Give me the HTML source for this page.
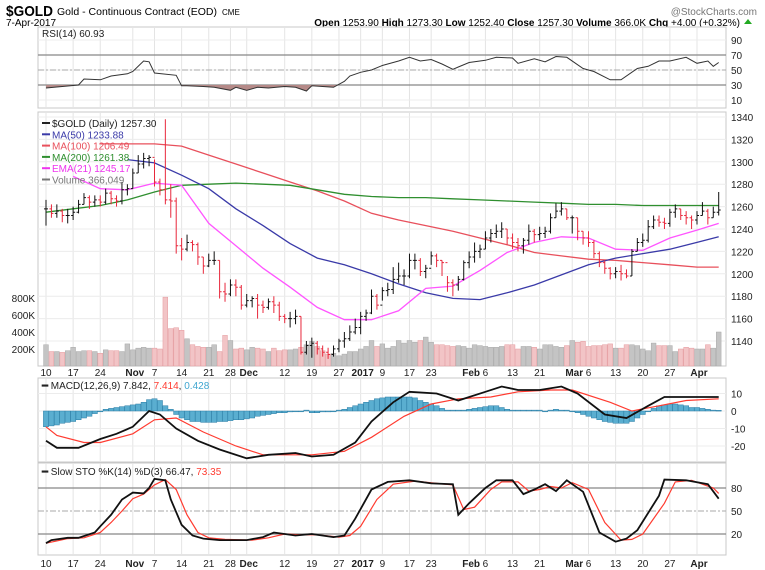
<!DOCTYPE html>
<html><head><meta charset="utf-8">
<style>
html,body{margin:0;padding:0;background:#fff;}
svg{display:block;font-family:"Liberation Sans",sans-serif;}
</style></head>
<body>
<svg id="chart" width="765" height="570" viewBox="0 0 765 570" xmlns="http://www.w3.org/2000/svg">
<text x="6" y="16" font-size="15" font-weight="bold" textLength="47" lengthAdjust="spacingAndGlyphs">$GOLD</text>
<text x="57" y="15" font-size="10" textLength="160" lengthAdjust="spacingAndGlyphs">Gold - Continuous Contract (EOD)</text>
<text x="222" y="15" font-size="8">CME</text>
<text x="6" y="26" font-size="10">7-Apr-2017</text>
<text x="740" y="26" font-size="10" text-anchor="end"><tspan font-weight="bold">Open</tspan> 1253.90 <tspan font-weight="bold">High</tspan> 1273.30 <tspan font-weight="bold">Low</tspan> 1252.40 <tspan font-weight="bold">Close</tspan> 1257.30 <tspan font-weight="bold">Volume</tspan> 366.0K <tspan font-weight="bold">Chg</tspan> +4.00 (+0.32%)</text>
<polygon points="744,24 752,24 748,19" fill="#22aa22"/>
<text x="757" y="15" font-size="10" fill="#777" text-anchor="end">@StockCharts.com</text>
<g id="g"></g>
</svg>
<script>
// ---- data ----
const weekLabels = ["10","17","24","Nov","7","14","21","28","Dec","12","19","27","2017","9","17","23","Feb","6","13","21","Mar","6","13","20","27","Apr"];
const weekLabelDay = [0,5,10,16,20,25,30,34,37,44,49,54,58,62,67,71,78,81,86,91,97,100,105,110,115,120];
const close = [1258,1254,1256,1252,1252, 1255,1262,1268,1264,1266, 1264,1272,1267,1265,1275, 1276,1290,1298,1303,1304, 1282,1275,1266,1265,1225, 1222,1228,1226,1215,1207, 1212,1212,1184,1182, 1190,1188,1172,1176,1178, 1172,1170,1175,1172,1162, 1160,1160,1162,1130,1136, 1138,1133,1130,1128,1133, 1140,1142,1148,1152, 1162,1165,1180,1172, 1185,1186,1195,1198,1198, 1212,1212,1202,1205, 1216,1212,1210,1192,1190, 1195,1210,1215,1220,1222, 1232,1236,1238,1240,1232, 1228,1225,1230,1238,1235, 1236,1238,1250,1256, 1258,1250,1250,1238,1232, 1228,1218,1210,1205,1200, 1202,1200,1198,1220,1228, 1230,1242,1248,1246,1245, 1255,1258,1252,1250,1248, 1252,1256,1250,1255,1257];
const high = [1266,1262,1262,1258,1258, 1260,1266,1272,1270,1270, 1270,1276,1274,1270,1282, 1280,1294,1306,1308,1306, 1302,1285,1338,1280,1268, 1232,1235,1230,1228,1215, 1218,1220,1212,1192, 1195,1195,1190,1182,1180, 1182,1176,1178,1180,1175, 1164,1166,1168,1162,1140, 1143,1140,1136,1134,1136, 1142,1148,1154,1160, 1166,1168,1186,1182, 1188,1192,1206,1210,1204, 1218,1218,1214,1208, 1220,1218,1212,1198,1195, 1198,1212,1220,1228,1226, 1238,1240,1244,1246,1240, 1236,1232,1232,1244,1240, 1242,1242,1254,1263, 1264,1258,1252,1250,1238, 1238,1230,1220,1212,1206, 1206,1208,1204,1222,1232, 1236,1248,1252,1252,1250, 1258,1262,1258,1256,1252, 1256,1264,1258,1260,1273];
const low = [1243,1250,1250,1246,1245, 1248,1254,1262,1258,1260, 1260,1262,1262,1260,1262, 1270,1276,1290,1294,1296, 1278,1270,1262,1250,1218, 1212,1220,1220,1208,1200, 1206,1208,1178,1175, 1180,1180,1168,1170,1170, 1160,1165,1168,1165,1158, 1156,1152,1155,1128,1128, 1125,1128,1126,1124,1126, 1130,1134,1140,1146, 1146,1158,1164,1168, 1176,1180,1182,1192,1190, 1196,1204,1198,1196, 1208,1206,1198,1184,1180, 1185,1194,1205,1210,1214, 1222,1228,1232,1232,1226, 1222,1220,1218,1226,1228, 1230,1232,1236,1250, 1252,1248,1236,1230,1226, 1224,1214,1206,1200,1195, 1196,1194,1196,1198,1220, 1224,1228,1240,1242,1240, 1242,1250,1248,1244,1240, 1244,1252,1244,1250,1252];
const volumeK = [250,170,170,160,180, 220,170,180,180,170, 150,190,180,180,170, 260,190,210,220,210, 210,200,810,440,450, 420,320,250,230,220, 220,250,170,360, 300,200,210,190,220, 210,200,170,210,180, 190,190,200,220,250, 290,230,180,140,150, 120,140,170,170, 200,230,300,230, 260,210,230,300,270, 300,280,300,340, 280,250,250,240,230, 240,230,210,250,240, 230,220,220,230,250, 250,200,230,230,220, 200,250,250,230, 220,240,300,280,290, 230,240,240,250,260, 210,210,250,250,240, 200,180,270,240,240, 240,170,200,220,210, 200,200,250,210,400];
const maDay = [0,5,10,15,20,25,30,35,40,45,50,55,60,65,70,75,80,85,90,95,100,105,110,115,120,124];
const ma50 = [null,null,null,1302,1299,1288,1276,1258,1243,1227,1214,1208,1200,1191,1183,1178,1177,1183,1190,1199,1208,1214,1218,1222,1228,1233];
const ma100 = [null,null,1316,1316,1316,1314,1306,1298,1290,1282,1274,1265,1254,1248,1243,1238,1232,1226,1219,1216,1213,1212,1210,1208,1206,1206];
const ma200 = [1255,1258,1261,1266,1273,1279,1280,1281,1280,1279,1275,1271,1269,1268,1268,1267,1266,1265,1264,1263,1262,1262,1261,1261,1261,1261];
const ema21 = [null,1287,1276,1275,1281,1279,1245,1225,1205,1188,1170,1159,1159,1167,1187,1189,1203,1219,1228,1233,1232,1222,1221,1232,1239,1245];
const rsiDay = [0,3,6,7,10,12,15,16,18,19,20,24,25,26,29,31,34,35,37,39,41,44,46,48,49,53,55,56,58,60,62,65,67,69,71,73,75,76,78,81,83,86,87,90,92,94,96,99,101,104,106,109,111,113,115,118,120,122,123,124];
const rsi = [26,28,30,38,37,42,45,48,62,61,46,43,29,29,28,27,23,27,23,27,26,28,27,22,29,27,35,42,47,50,56,62,67,62,64,58,51,54,60,63,67,66,59,65,61,68,67,52,48,37,37,52,55,62,62,67,59,62,55,60];
const macdDay = [0,2,6,10,13,16,19,21,24,28,32,37,41,46,49,53,57,60,64,67,72,76,81,84,87,91,95,98,103,107,111,114,120,124];
const macd = [-17,-21,-21,-16,-13,-9,0,-2,-10,-17,-22,-27,-25,-24,-26,-25,-18,-6,5,11,10,6,11,14,12,12,14,10,-2,-4,3,8,8,8];
const signalDay = [0,2,7,10,16,20,24,29,35,40,49,55,60,66,71,76,82,87,93,97,104,108,113,118,124];
const signal = [-9,-14,-18,-18,-13,-5,-4,-12,-20,-25,-25,-23,-15,-3,4,7,8,11,12,12,5,0,3,6,7];
const hist = [-9,-8.5,-8,-7, -6.5,-6,-5,-4, -3,-1.5, 0,1,1.5, 2,2.5,3,3.5, 4,5,6.5,7, 6,3, 1,-2,-4, -5,-6,-6,-6.5,-6.5, -6.5,-6,-6,-5.5,-5, -5,-4.5,-4,-3,-2.5, -2,-1.5,-1,-1,-0.5, 0,0,0.5,-1,-1, -0.5,-0.5,0,0.5,1, 2,3,4,5,6, 7,7.5,8,8,8, 8,8,7.5,6,5, 4,3,1.5,0.5,0.5, 0.5,0.5,1,1.5,2, 2.5,3,3,2,1, 0.5,0.5,0.5,0.5,0.5, 0.5,0,0.5,1,0.5, 0.5,0,-1,-2,-3, -4,-5,-6,-6.5,-7, -7,-7,-6,-4,-2, 0,1.5,3,3.5,4, 4,3.5,3,2,2, 1.5,1,0.5,0.4];
const stoKDay = [0,1,4,6,9,10,12,14,16,18,19,20,22,23,25,27,29,32,37,40,42,46,49,53,55,57,60,63,67,71,75,76,78,81,83,86,88,90,92,94,96,99,102,105,107,109,113,114,118,122,124];
const stoK = [8,12,15,15,22,30,45,65,74,73,80,92,90,65,32,18,14,12,12,16,22,18,20,16,18,40,78,88,90,86,85,45,60,80,90,90,72,78,85,76,90,75,22,10,14,25,70,91,90,85,66];
const stoDDay = [0,2,4,7,10,12,14,16,18,20,22,24,26,28,30,33,38,41,44,47,50,54,56,58,61,64,68,72,75,77,79,82,84,87,89,91,93,95,97,100,103,106,108,110,114,116,119,123,124];
const stoD = [8,11,14,15,22,35,50,66,72,84,91,78,45,22,15,13,12,15,20,19,19,16,18,30,65,85,89,86,84,52,55,78,88,88,76,78,82,80,87,78,35,12,13,20,60,88,90,80,73];
const priceTicks = [1140,1160,1180,1200,1220,1240,1260,1280,1300,1320,1340];
const volTicks = ["200K","400K","600K","800K"];
const volTickVals = [200,400,600,800];
const rsiTicks = [10,30,50,70,90];
const macdTicks = [-20,-10,0,10];
const stoTicks = [20,50,80];

// ---- scales ----
const L = 38, R = 726;
const xOf = i => 46 + i * 5.425;
const yP = p => 117 + (1340 - p) * 1.12;
const yV = v => 366 - v * 0.085;
const yR = v => 55 + (70 - v) * 0.75;
const yM = v => 411 - v * 1.75;
const yS = v => 511 - (v - 50) * 0.767;

const NS = "http://www.w3.org/2000/svg";
const root = document.getElementById('g');
function mk(tag, attrs, parent) {
  const el = document.createElementNS(NS, tag);
  for (const k in attrs) el.setAttribute(k, attrs[k]);
  (parent || root).appendChild(el);
  return el;
}
function pathFrom(days, vals, yf) {
  let d = "", started = false;
  for (let i = 0; i < vals.length; i++) {
    if (vals[i] === null) continue;
    d += (started ? "L" : "M") + xOf(days[i]).toFixed(1) + "," + yf(vals[i]).toFixed(1);
    started = true;
  }
  return d;
}

const panels = [["rsi-panel",27,108],["price-panel",112,366],["macd-panel",378,462],["sto-panel",463,555]];
for (const p of panels) {
  const el = mk('rect', {x: L, y: p[1], width: R - L, height: p[2] - p[1], fill: '#fff', stroke: '#c8c8c8', 'stroke-width': 1});
  
  
}
for (let i = 0; i < weekLabelDay.length; i++) {
  const x = xOf(weekLabelDay[i]);
  for (const p of panels) {
    const el = mk('line', {x1: x, x2: x, y1: p[1], y2: p[2], stroke: '#e4e4e4', 'stroke-width': 1});
    
    
  }
}
function dateRow(y, nm) {
  for (let i = 0; i < weekLabels.length; i++) {
    const isMonth = isNaN(+weekLabels[i]) || weekLabels[i] === "2017";
    const el = mk('text', {x: xOf(weekLabelDay[i]) + (isMonth ? 2 : 0), y: y, 'font-size': 10, 'text-anchor': 'middle', 'font-weight': isMonth ? 'bold' : 'normal', fill: '#222'});
    el.textContent = weekLabels[i];
    
    
  }
}
dateRow(376, 'price-date-label');
dateRow(567, 'bottom-date-label');

function hline(y, color, dash, nm, w) {
  const el = mk('line', {x1: L, x2: R, y1: y, y2: y, stroke: color, 'stroke-width': w || 1});
  if (dash) el.setAttribute('stroke-dasharray', dash);
  
  
}
function rlabel(y, txt, nm) {
  const el = mk('text', {x: 731, y: y + 4, 'font-size': 10, fill: '#222'});
  el.textContent = txt;
  
  
}

// ---- RSI ----
for (const t of rsiTicks) { hline(yR(t), '#ececec', null, 'rsi-gridline'); rlabel(yR(t), t, 'rsi-tick-label'); }
hline(yR(70), '#888', null, 'rsi-overbought-line', 1.2);
hline(yR(30), '#888', null, 'rsi-oversold-line', 1.2);
hline(yR(50), '#aaa', '6,2,2,2', 'rsi-midline');
const clip = mk('clipPath', {id: 'rsiClip'});
mk('rect', {x: L, y: yR(30), width: R - L, height: 108 - yR(30)}, clip);
const rsiLine = pathFrom(rsiDay, rsi, yR);
const rsiArea = mk('path', {d: rsiLine + "L" + xOf(rsiDay[rsiDay.length-1]) + "," + yR(30) + "L" + xOf(rsiDay[0]) + "," + yR(30) + "Z", fill: '#b58a88', 'clip-path': 'url(#rsiClip)'});


const rsiP = mk('path', {d: rsiLine, fill: 'none', stroke: '#333', 'stroke-width': 1});


const rsiT = mk('text', {x: 42, y: 37, 'font-size': 10, fill: '#222'});
rsiT.textContent = 'RSI(14) 60.93';



// ---- price ----
for (const t of priceTicks) { hline(yP(t), '#ececec', null, 'price-gridline'); rlabel(yP(t), t, 'price-tick-label'); }
for (let i = 0; i < volTicks.length; i++) {
  const el = mk('text', {x: 35, y: yV(volTickVals[i]) + 4, 'font-size': 10, fill: '#222', 'text-anchor': 'end'});
  el.textContent = volTicks[i];
  
  
}
for (let i = 0; i < volumeK.length; i++) {
  const down = i > 0 && close[i] < close[i-1];
  const y = yV(volumeK[i]);
  const el = mk('rect', {x: xOf(i) - 2.4, y: y, width: 4.8, height: 366 - y, fill: down ? '#f2c4c6' : '#c4c4c4', stroke: down ? '#e49a9e' : '#a8a8a8', 'stroke-width': 0.5});
  
  
}
const maSpecs = [[ma100,'#e8505c','ma100-line'],[ma200,'#2f8f2f','ma200-line'],[ma50,'#3a3aa8','ma50-line'],[ema21,'#ff55ff','ema21-line']];
for (const s of maSpecs) {
  const el = mk('path', {d: pathFrom(maDay, s[0], yP), fill: 'none', stroke: s[1], 'stroke-width': 1.3});
  
  
}
for (let i = 0; i < close.length; i++) {
  const down = i > 0 && close[i] < close[i-1];
  const col = down ? '#e8283c' : '#111';
  const x = xOf(i);
  const op = i > 0 ? close[i-1] : close[i];
  const el = mk('path', {d: 'M' + x + ',' + yP(high[i]) + 'V' + yP(low[i]) + 'M' + (x-2) + ',' + yP(op) + 'H' + x + 'M' + x + ',' + yP(close[i]) + 'H' + (x+2), stroke: col, 'stroke-width': 1, fill: 'none'});
  
  
}
const legend = [["$GOLD (Daily) 1257.30",'#222','price-legend'],["MA(50) 1233.88",'#3a3aa8','ma50-legend'],["MA(100) 1206.49",'#e8505c','ma100-legend'],["MA(200) 1261.38",'#2f8f2f','ma200-legend'],["EMA(21) 1245.17",'#ee33ee','ema21-legend'],["Volume 366,049",'#777','volume-legend']];
for (let i = 0; i < legend.length; i++) {
  const y = 123 + i * 11.3;
  const el = mk('text', {x: 52, y: y + 4, 'font-size': 10, fill: legend[i][1]});
  el.textContent = legend[i][0];
  
  
  const sw = mk('line', {x1: 42, x2: 50, y1: y, y2: y, stroke: legend[i][1], 'stroke-width': 2});
  
  
}

// ---- MACD ----
for (const t of macdTicks) { hline(yM(t), '#ececec', null, 'macd-gridline'); rlabel(yM(t), t, 'macd-tick-label'); }
for (let i = 0; i < hist.length; i++) {
  const y0 = yM(0), y1 = yM(hist[i]);
  const el = mk('rect', {x: xOf(i) - 2.6, y: Math.min(y0, y1), width: 5.2, height: Math.max(Math.abs(y1 - y0), 0.8), fill: '#5aaed0', stroke: '#2c7ea6', 'stroke-width': 0.5});
  
  
}
const sigP = mk('path', {d: pathFrom(signalDay, signal, yM), fill: 'none', stroke: '#ff3b30', 'stroke-width': 1.2});


const macdP = mk('path', {d: pathFrom(macdDay, macd, yM), fill: 'none', stroke: '#111', 'stroke-width': 1.8});


const macdT = mk('text', {x: 42, y: 389, 'font-size': 10, fill: '#222'});
macdT.innerHTML = '<tspan font-weight="bold">━</tspan> MACD(12,26,9) 7.842, <tspan fill="#ff3b30">7.414</tspan>, <tspan fill="#3fa6d0">0.428</tspan>';



// ---- STO ----
for (const t of stoTicks) rlabel(yS(t), t, 'sto-tick-label');
hline(yS(80), '#888', null, 'sto-overbought-line', 1.2);
hline(yS(20), '#888', null, 'sto-oversold-line', 1.2);
hline(yS(50), '#aaa', '6,2,2,2', 'sto-midline');
const dP = mk('path', {d: pathFrom(stoDDay, stoD, yS), fill: 'none', stroke: '#ff3b30', 'stroke-width': 1.2});


const kP = mk('path', {d: pathFrom(stoKDay, stoK, yS), fill: 'none', stroke: '#111', 'stroke-width': 1.8});


const stoT = mk('text', {x: 42, y: 475, 'font-size': 10, fill: '#222'});
stoT.innerHTML = '<tspan font-weight="bold">━</tspan> Slow STO %K(14) %D(3) 66.47, <tspan fill="#ff3b30">73.35</tspan>';


</script>
</body></html>
